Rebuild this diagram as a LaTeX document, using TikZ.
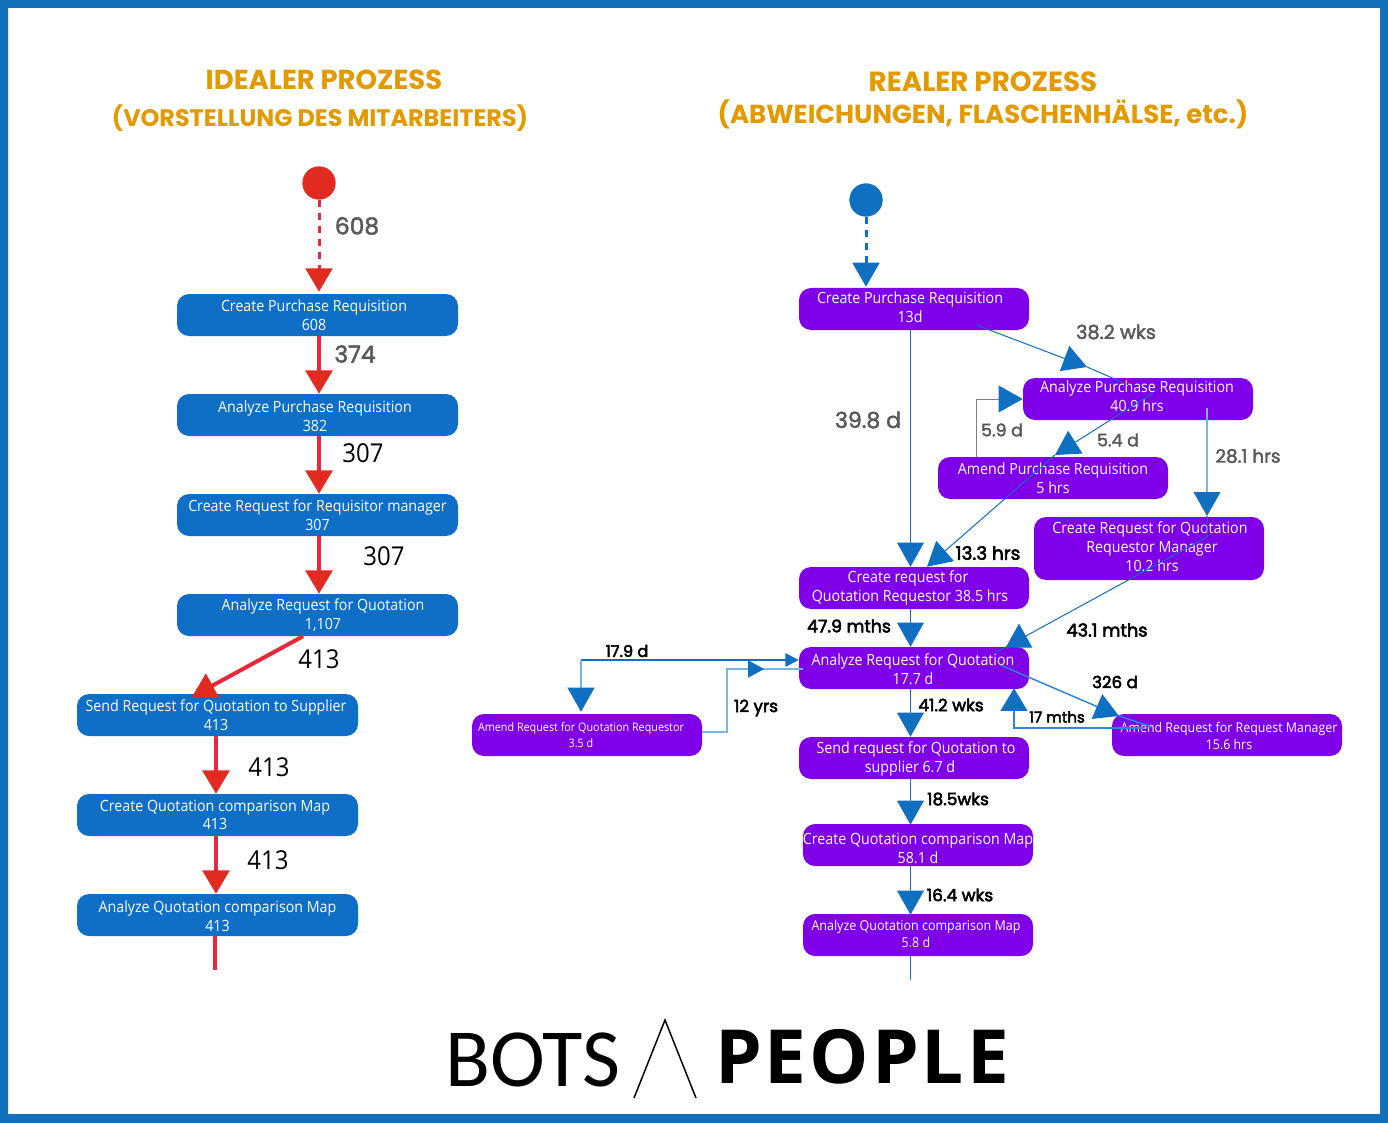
\documentclass[tikz,border=0pt]{standalone}
\usepackage{fontspec}
\usetikzlibrary{arrows.meta,calc}
\setmainfont{Open Sans}
\newfontfamily\boxfont{Open Sans}[FakeStretch=0.92]
\newfontfamily\labfont{Poppins}[FakeBold=2]
\newfontfamily\blabfont{Poppins}[FakeBold=3]
\newfontfamily\titlefont{Poppins}
\newfontfamily\botsfont{Carlito}
\newfontfamily\peoplefont{Open Sans}[LetterSpace=4]
\newdimen\px \px=0.75pt
\newcommand\tk[1]{\hspace*{#1\px}}
\newcommand\pushup[1]{\rule[-#1\px]{0pt}{0pt}}
\newcommand\pushdown[1]{\rule{0pt}{#1\px}}
\definecolor{frameblue}{HTML}{1270BC}
\definecolor{bluebox}{HTML}{0F6FC6}
\definecolor{purplebox}{HTML}{7F00E8}
\definecolor{headred}{HTML}{E12B20}
\definecolor{linered}{HTML}{E6283A}
\definecolor{headblue}{HTML}{0F6FC0}
\definecolor{lightblue}{HTML}{7AB4E4}
\definecolor{midblue}{HTML}{2E86D8}
\definecolor{labgray}{HTML}{595959}
\definecolor{titleorange}{HTML}{E39A00}
\tikzset{
  flowbox/.style={rounded corners=9pt,minimum height=31.5pt,inner sep=0pt,text=white,align=center},
  leftbox/.style={flowbox,fill=bluebox,minimum width=210.75pt,font=\boxfont\fontsize{11.6}{13.9}\selectfont},
  rightbox/.style={flowbox,fill=purplebox,minimum width=172.5pt,font=\boxfont\fontsize{11.6}{14.3}\selectfont},
  redline/.style={draw=linered,line width=3pt},
  redtip/.style={redline,-{Triangle[length=17.5pt,width=20pt,color=headred]}},
  bluetip/.style={draw=headblue,line width=.75pt,-{Triangle[length=18pt,width=20pt,color=headblue]}},
  smalltip/.style={-{Triangle[length=10pt,width=10pt,color=headblue]}},
  wire/.style={draw=headblue,line width=.75pt},
  glab/.style={text=labgray,inner sep=0pt,font=\labfont\fontsize{#1}{#1}\selectfont},
  klab/.style={text=black,inner sep=0pt,font=\blabfont\fontsize{#1}{#1}\selectfont},
  nlab/.style={text=black,inner sep=0pt,font=\boxfont\fontsize{19.5}{20}\selectfont},
  ttl/.style={text=titleorange,inner sep=0pt,font=\titlefont\bfseries\fontsize{#1}{#1}\selectfont},
}
\begin{document}
\begin{tikzpicture}[x=0.75pt,y=-0.75pt]
\useasboundingbox (0,0) rectangle (1388,1123);
\fill[white] (0,0) rectangle (1388,1123);
\fill[frameblue,even odd rule] (0,0) rectangle (1388,1123) (8,8) rectangle (1380,1114);

% titles
\node[ttl=20.6] (t1) at (324,80) {IDEALER PROZESS};
\node[ttl=17.9] (t2) at (320,118) {(VORSTELLUNG DES MITARBEITERS)};
\node[ttl=20.8] (t3) at (983,82) {REALER PROZESS};
\node[ttl=19.5] (t4) at (983,114) {(ABWEICHUNGEN, FLASCHENHÄLSE, etc.)};

% left column
\node[circle,fill=headred,minimum size=25pt,inner sep=0pt] (ls) at (319,183) {};
\node[leftbox] (L1) at (317.5,315) {\tk{-7}Create Purchase Requisition\\\tk{-7}608};
\node[leftbox] (L2) at (317.5,415) {\pushdown{14.2}\tk{-5}Analyze Purchase Requisition\\\tk{-5}382};
\node[leftbox] (L3) at (317.5,515) {Create Request for Requisitor manager\\307};
\node[leftbox] (L4) at (317.5,615) {\tk{11}Analyze Request for Quotation\\\tk{11}1,107};
\node[leftbox] (L5) at (217.5,715) {\tk{-3}Send Request for Quotation to Supplier\\\tk{-3}413};
\node[leftbox] (L6) at (217.5,815) {\tk{-5}Create Quotation comparison Map\\\tk{-5}413};
\node[leftbox] (L7) at (217.5,915) {\pushdown{14.2}Analyze Quotation comparison Map\\413};
\coordinate (lend) at (215,970);

\draw[redtip,line width=2.25pt,dash pattern=on 5.25pt off 4.5pt] (ls.south) -- ($(L1.north)+(1.5,-2)$);
\draw[redtip] ($(L1.south)+(1.5,0)$) -- ($(L2.north)+(1.5,0)$);
\draw[redtip] ($(L2.south)+(1.5,0)$) -- ($(L3.north)+(1.5,0)$);
\draw[redtip] ($(L3.south)+(1.5,0)$) -- ($(L4.north)+(1.5,0)$);
\draw[redtip] ($(L4.south)+(-14.5,0)$) -- ($(L5.north)+(-25.5,3)$);
\draw[redtip] ($(L5.south)+(-1.5,0)$) -- ($(L6.north)+(-1.5,0)$);
\draw[redtip] ($(L6.south)+(-1.5,0)$) -- ($(L7.north)+(-1.5,0)$);
\draw[redline] ($(L7.south)+(-2.5,0)$) -- (lend);

\node[glab=17.5] (n608) at (357,226) {608};
\node[glab=17.5] (n374) at (355,354) {374};
\node[nlab] (n307a) at (363,453) {307};
\node[nlab] (n307b) at (384,556) {307};
\node[nlab] (n413a) at (319,659) {413};
\node[nlab] (n413b) at (269,767) {413};
\node[nlab] (n413c) at (268,860) {413};

% right column
\node[circle,fill=headblue,minimum size=25pt,inner sep=0pt] (rs) at (866,200) {};
\node[rightbox] (R1) at (914,309) {\tk{-8}Create Purchase Requisition\\\pushup{4}\tk{-8}13d};
\node[rightbox] (R2) at (1138,399) {\tk{-2}Analyze Purchase Requisition\\\pushup{5}\tk{-2}40.9 hrs};
\node[rightbox] (R3) at (1053,478) {Amend Purchase Requisition\\5 hrs};
\node[rightbox,minimum height=47.25pt] (R4) at (1149,548.5) {\tk{2}Create Request for Quotation\\\tk{6}Requestor Manager\\\pushup{4}\tk{6}10.2 hrs};
\node[rightbox] (R5) at (914,588) {\tk{-12}Create request for\\\tk{-8}Quotation Requestor 38.5 hrs};
\node[rightbox] (R6) at (914,668) {\pushdown{13.8}\tk{-2}Analyze Request for Quotation\\\tk{-2}17.7 d};
\node[rightbox] (R7) at (914,758) {\pushdown{13.8}\tk{4}Send request for Quotation to\\\tk{-8}supplier 6.7 d};
\node[rightbox] (R8) at (918,845) {\pushdown{18.8}Create Quotation comparison Map\\58.1 d};
\node[rightbox,font=\boxfont\fontsize{10.2}{13}\selectfont] (R9) at (918,935) {\tk{-4}Analyze Quotation comparison Map\\\pushup{2}\tk{-4}5.8 d};
\node[rightbox,font=\boxfont\fontsize{8.8}{12}\selectfont] (R10) at (587,735) {\tk{-12}Amend Request for Quotation Requestor\\\tk{-12}3.5 d};
\node[rightbox,font=\boxfont\fontsize{10.1}{12.5}\selectfont] (R11) at (1227,735) {\pushdown{12.2}\tk{4}Amend Request for Request Manager\\\tk{4}15.6 hrs};
\coordinate (rend) at (910.5,980);
% hubs where a connector changes direction or carries its arrowhead part-way
\coordinate (h12) at (1087,367);
\coordinate (h23) at (1055,455);
\coordinate (h24) at (1207,516);
\coordinate (b24) at (1207,537);
\coordinate (b32a) at (976,399);
\coordinate (h611) at (1119,716);
\coordinate (b610) at (581,660);
\coordinate (b106a) at (727,732);
\coordinate (b106b) at (727,669);
\coordinate (h106) at (764,669);
\coordinate (b116) at (1014,728);

\draw[bluetip,dash pattern=on 5.25pt off 4.5pt,line width=2.25pt] (rs.south) -- ($(R1.north)+(-48,-1)$);
\draw[bluetip] ($(R1.south)+(-3.5,0)$) -- ($(R5.north)+(-3.5,0)$);
\draw[bluetip] ($(R1.south)+(63,-5)$) -- (h12);
\draw[wire] (h12) -- ($(R2.north)+(-10,7)$);
\draw[draw=gray,line width=.75pt,-{Triangle[length=18pt,width=20pt,color=headblue]}] ($(R3.north)+(-77,0)$) |- (b32a) -- (R2.west);
\draw[bluetip] ($(R2.center)+(15,-6)$) -- (h23);
\draw[bluetip] (h23) -- ($(R5.north)+(13,0)$);
\draw[draw=lightblue,line width=1.5pt,-{Triangle[length=18pt,width=20pt,color=headblue]}] ($(R2.south)+(69,-12)$) -- (h24);
\draw[wire] (h24) -- (b24) -- ($(R6.north east)+(-34,6)$);
\draw[bluetip,line width=.1pt] (1019,648) -- ($(R6.north)+(105,-23)$);
\draw[bluetip] ($(R5.south)+(-3.5,0)$) -- ($(R6.north)+(-3.5,0)$);
\draw[bluetip] ($(R6.south)+(-3.5,0)$) -- ($(R7.north)+(-3.5,0)$);
\draw[bluetip] ($(R7.south)+(-3.5,0)$) -- ($(R8.north)+(-7.5,1)$);
\draw[bluetip] ($(R8.south)+(-7.5,0)$) -- ($(R9.north)+(-7.5,1)$);
\draw[wire] ($(R9.south)+(-7.5,0)$) -- (rend);

\draw[wire,line width=1.1pt,smalltip] (b610) -- ($(R6.west)+(0,-8)$);
\draw[draw=lightblue,line width=1.5pt,-{Triangle[length=18pt,width=20pt,color=headblue]}] (b610) -- ($(R10.north)+(-6,-2)$);
\draw[draw=lightblue,line width=1.5pt] (R10.east |- b106a) -- (b106a) -- (b106b) -- (h106);
\draw[draw=lightblue,line width=1.5pt] (h106) -- ($(R6.west)+(4,1)$);
\draw[draw=headblue,line width=.1pt,-{Triangle[length=12pt,width=13pt,color=headblue]}] (748,669) -- (h106);
\draw[draw=midblue,line width=1.1pt,-{Triangle[length=18pt,width=20pt,color=headblue]}] ($(R6.east)+(-29,-3)$) -- (h611);
\draw[draw=midblue,line width=1.1pt] (h611) -- ($(R11.center)+(-75,-8)$);
\draw[draw=midblue,line width=1.9pt,-{Triangle[length=17pt,width=20pt,color=headblue]}] ($(R11.west)+(31,-7)$) -- (R11.west |- b116) -- (b116) -- ($(R6.south)+(100,-1)$);

\node[glab=14.5] (a1) at (1116,332) {38.2 wks};
\node[glab=16.5] (a2) at (868,420) {39.8 d};
\node[glab=13] (a3) at (1002,430) {5.9 d};
\node[glab=13] (a4) at (1118,440) {5.4 d};
\node[glab=13.8] (a5) at (1248,456) {28.1 hrs};
\node[klab=13.8] (a6) at (988,553) {13.3 hrs};
\node[klab=13] (a7) at (849,626) {47.9 mths};
\node[klab=13.3] (a8) at (1107,630) {43.1 mths};
\node[klab=12.1] (a9) at (627,651) {17.9 d};
\node[klab=12.5] (a10) at (1115,682) {326 d};
\node[klab=12.6] (a11) at (756,708) {12 yrs};
\node[klab=12.7] (a12) at (951,705) {41.2 wks};
\node[klab=11.3] (a13) at (1057,717) {17 mths};
\node[klab=12.7] (a14) at (958,799) {18.5wks};
\node[klab=12.7] (a15) at (960,895) {16.4 wks};

% logo
\node[inner sep=0pt,text=black,font=\botsfont\fontsize{62}{62}\selectfont] (bots) at (533,1060) {BOTS};
\node[inner sep=0pt,text=black,font=\peoplefont\bfseries\fontsize{56}{56}\selectfont] (people) at (862,1057) {PEOPLE};
\coordinate (ll) at (634,1098);
\coordinate (lt) at (665,1020);
\coordinate (lr) at (696,1098);
\draw[black,line width=1.1pt] (ll) -- (lt) -- (lr);
\end{tikzpicture}
\end{document}
